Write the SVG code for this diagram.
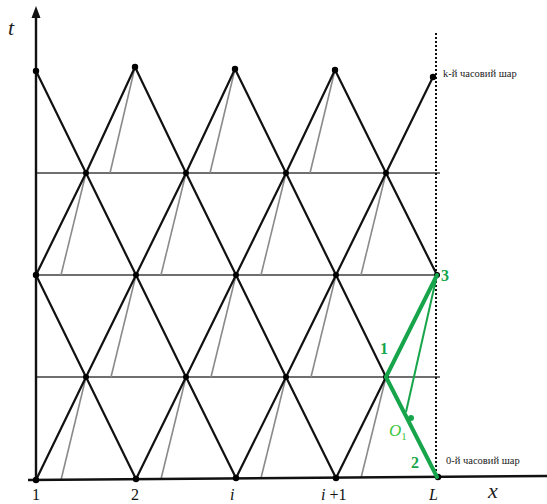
<svg xmlns="http://www.w3.org/2000/svg" width="547" height="504" viewBox="0 0 547 504">
<style>
.blk{fill:none;stroke:#111;stroke-width:2.2;stroke-linejoin:round}
.gry{fill:none;stroke:#8a8a8a;stroke-width:1.6}
.hgr{fill:none;stroke:#6f6f6f;stroke-width:1.8}
.dot{fill:#000}
.grn{fill:none;stroke:#17a54b;stroke-width:4;stroke-linecap:round}
.grnt{fill:none;stroke:#17a54b;stroke-width:2}
.lbl{font-family:"Liberation Serif",serif;font-size:16px;fill:#111}
.big{font-family:"Liberation Serif",serif;font-size:22px;font-style:italic;fill:#222}
.it{font-style:italic}
.sm{font-family:"Liberation Serif",serif;font-size:10.5px;fill:#222}
.gl{font-family:"Liberation Serif",serif;font-size:16px;font-weight:bold;fill:#17a54b}
</style>
<g id="grid-horizontal">
<line class="hgr" x1="36" y1="173" x2="440" y2="173"/>
<line class="hgr" x1="36" y1="275" x2="440" y2="275"/>
<line class="hgr" x1="36" y1="377" x2="440" y2="377"/>
</g>
<g id="gray-lines">
<line class="gry" x1="86" y1="377" x2="61" y2="480"/>
<line class="gry" x1="186" y1="377" x2="161" y2="479"/>
<line class="gry" x1="286" y1="377" x2="261" y2="478"/>
<line class="gry" x1="386" y1="377" x2="361" y2="478"/>
<line class="gry" x1="136" y1="275" x2="111" y2="377"/>
<line class="gry" x1="236" y1="275" x2="211" y2="377"/>
<line class="gry" x1="336" y1="275" x2="311" y2="377"/>
<line class="gry" x1="86" y1="173" x2="61" y2="275"/>
<line class="gry" x1="186" y1="173" x2="161" y2="275"/>
<line class="gry" x1="286" y1="173" x2="261" y2="275"/>
<line class="gry" x1="386" y1="173" x2="361" y2="275"/>
<line class="gry" x1="135" y1="67" x2="110" y2="173"/>
<line class="gry" x1="235" y1="69" x2="210" y2="173"/>
<line class="gry" x1="335" y1="70" x2="310" y2="173"/>
</g>
<g id="axes">
<line x1="36" y1="482" x2="36" y2="16" stroke="#111" stroke-width="2.4"/>
<polygon points="36,6 31.5,18 40.5,18" fill="#111"/>
<line x1="28" y1="480" x2="547" y2="476" stroke="#111" stroke-width="2.4"/>
<line x1="436" y1="33" x2="436" y2="476" stroke="#111" stroke-width="2" stroke-dasharray="2 2"/>
</g>
<g id="connectors">
<polyline class="blk" points="36,275 86,173 135,67"/>
<polyline class="blk" points="36,480 86,377 136,275 186,173 235,69"/>
<polyline class="blk" points="136,479 186,377 236,275 286,173 335,70"/>
<polyline class="blk" points="236,478 286,377 336,275 386,173 433,77"/>
<polyline class="blk" points="336,478 386,377"/>
<polyline class="blk" points="36,71 86,173 136,275 186,377 236,478"/>
<polyline class="blk" points="135,67 186,173 236,275 286,377 336,478"/>
<polyline class="blk" points="235,69 286,173 336,275 386,377"/>
<polyline class="blk" points="335,70 386,173 437,275"/>
<polyline class="blk" points="36,275 86,377 136,479"/>
</g>
<g id="nodes">
<circle class="dot" cx="36" cy="71" r="3.2"/>
<circle class="dot" cx="135" cy="67" r="3.2"/>
<circle class="dot" cx="235" cy="69" r="3.2"/>
<circle class="dot" cx="335" cy="70" r="3.2"/>
<circle class="dot" cx="433" cy="77" r="3.2"/>
<circle class="dot" cx="86" cy="173" r="3"/>
<circle class="dot" cx="186" cy="173" r="3"/>
<circle class="dot" cx="286" cy="173" r="3"/>
<circle class="dot" cx="386" cy="173" r="3"/>
<circle class="dot" cx="36" cy="275" r="3.2"/>
<circle class="dot" cx="136" cy="275" r="3"/>
<circle class="dot" cx="236" cy="275" r="3"/>
<circle class="dot" cx="336" cy="275" r="3"/>
<circle class="dot" cx="437" cy="275" r="3"/>
<circle class="dot" cx="86" cy="377" r="3"/>
<circle class="dot" cx="186" cy="377" r="3"/>
<circle class="dot" cx="286" cy="377" r="3"/>
<circle class="dot" cx="386" cy="377" r="3"/>
<circle class="dot" cx="36" cy="480" r="3.2"/>
<circle class="dot" cx="136" cy="479" r="3.2"/>
<circle class="dot" cx="236" cy="478" r="3.2"/>
<circle class="dot" cx="336" cy="478" r="3.2"/>
<circle class="dot" cx="438" cy="477" r="3.2"/>
</g>
<g id="green-construction">
<line class="grn" x1="386" y1="377" x2="437" y2="275"/>
<line class="grn" x1="386" y1="377" x2="437" y2="477"/>
<line class="grnt" x1="437" y1="275" x2="406" y2="412"/>
<circle cx="411" cy="418" r="3" fill="#17a54b"/>
<text class="gl" x="380" y="354">1</text>
<text class="gl" x="441" y="281">3</text>
<text class="gl" x="411" y="468">2</text>
<text x="389" y="436" font-family="Liberation Serif,serif" font-size="17" font-style="italic" fill="#3cc43c">O<tspan font-size="11" font-style="normal" dy="4">1</tspan></text>
</g>
<g id="labels">
<text class="big" x="8" y="35">t</text>
<text class="big" x="488" y="498">x</text>
<text class="lbl" x="32" y="500">1</text>
<text class="lbl" x="131" y="500">2</text>
<text class="lbl it" x="230" y="500">i</text>
<text class="lbl" x="321" y="500"><tspan font-style="italic">i</tspan> +1</text>
<text class="lbl it" x="429" y="500">L</text>
<text class="sm" x="443" y="77">k-й часовий шар</text>
<text class="sm" x="446" y="464">0-й часовий шар</text>
</g>
</svg>
